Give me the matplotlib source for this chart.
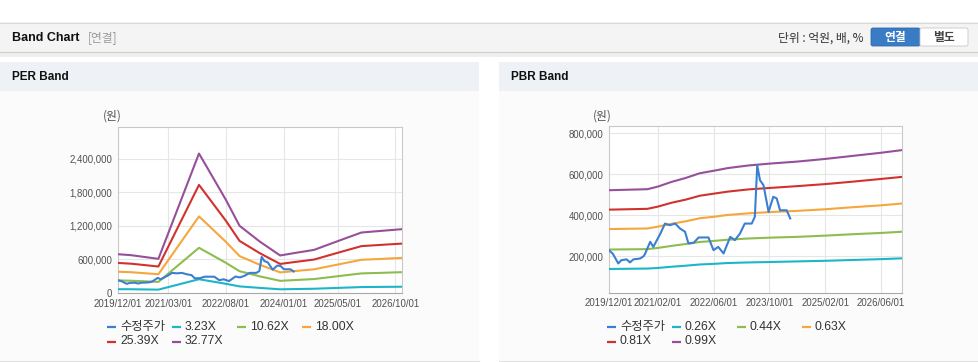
import pandas as pd
import matplotlib
matplotlib.use("Agg")
import matplotlib.pyplot as plt
from matplotlib.patches import Rectangle, FancyBboxPatch
from matplotlib.ticker import FuncFormatter

# 폰트 설정
KR = ['Noto Sans CJK KR', 'DejaVu Sans']
LAT = ['Liberation Sans', 'Noto Sans CJK KR']
W, H = 979, 362

# 수정주가 (PER / PBR 공통)
price_dates = ['2019-12-01', '2020-01-05', '2020-02-20', '2020-03-18', '2020-05-03',
               '2020-06-01', '2020-07-01', '2020-08-28', '2020-09-28', '2020-10-10',
               '2020-11-25', '2020-12-22', '2021-02-22', '2021-04-03', '2021-05-15',
               '2021-07-01', '2021-08-12', '2021-09-25', '2021-10-25', '2021-12-10',
               '2022-01-22', '2022-04-18', '2022-06-01', '2022-07-12', '2022-08-28',
               '2022-10-25', '2022-12-05', '2023-01-18', '2023-03-01', '2023-05-01',
               '2023-05-28', '2023-06-18', '2023-07-12', '2023-08-12', '2023-09-25',
               '2023-11-05', '2023-12-05', '2024-01-03', '2024-03-01', '2024-04-01']
price_values = [229, 210, 164, 180, 184, 169, 184, 188, 199, 210,
                270, 245, 310, 359, 351, 359, 335, 319, 262, 265,
                291, 291, 229, 245, 213, 294, 278, 310, 359, 359,
                392, 644, 571, 546, 416, 490, 482, 424, 424, 384]

# PER 밴드
per_dates = ['2019-12-01', '2020-04-01', '2020-12-01', '2021-12-01', '2022-02-01',
             '2022-08-01', '2022-12-01', '2023-06-01', '2023-12-01', '2024-04-01',
             '2024-10-01', '2025-06-01', '2025-12-01', '2026-06-01', '2026-12-01']
per_3_23 = [68, 67, 60, 246, 225, 164, 118, 91, 66, 70, 76, 93, 106, 109, 112]
per_10_62 = [225, 219, 198, 807, 739, 538, 389, 297, 217, 230, 249, 307, 350, 360, 372]
per_18_00 = [380, 371, 335, 1367, 1252, 911, 659, 504, 368, 390, 423, 520, 593, 609, 628]
per_25_39 = [537, 523, 473, 1930, 1767, 1287, 930, 711, 519, 551, 597, 735, 837, 860, 882]
per_32_77 = [693, 675, 610, 2490, 2280, 1660, 1200, 918, 670, 711, 770, 948, 1080, 1110, 1140]
per_labels = ['3.23X', '10.62X', '18.00X', '25.39X', '32.77X']
per_ticks = ['2019-12-01', '2021-03-01', '2022-08-01', '2024-01-01', '2025-05-01', '2026-10-01']

# PBR 밴드
pbr_dates = ['2019-12-01', '2020-11-01', '2021-02-01', '2021-06-01', '2021-10-01',
             '2022-02-01', '2022-06-01', '2022-10-01', '2023-04-01', '2023-10-01',
             '2024-06-01', '2025-02-01', '2025-10-01', '2026-06-01', '2026-12-01']
pbr_0_26 = [137, 139, 142, 148, 153, 159, 162, 166, 169, 171, 174, 177, 181, 185, 189]
pbr_0_44 = [232, 234, 240, 250, 259, 269, 274, 280, 286, 290, 294, 300, 307, 313, 319]
pbr_0_63 = [332, 335, 344, 358, 370, 385, 392, 401, 409, 415, 421, 429, 439, 448, 457]
pbr_0_81 = [427, 431, 442, 461, 476, 495, 505, 515, 526, 533, 542, 552, 564, 577, 587]
pbr_0_99 = [522, 527, 540, 563, 582, 605, 617, 630, 643, 652, 662, 675, 690, 705, 718]
pbr_labels = ['0.26X', '0.44X', '0.63X', '0.81X', '0.99X']
pbr_ticks = ['2019-12-01', '2021-02-01', '2022-06-01', '2023-10-01', '2025-02-01', '2026-06-01']

PRICE_COLOR = '#3b7fd0'
BAND_COLORS = ['#1db6c9', '#8dbd4f', '#f6a63c', '#d1322e', '#96509b']


def draw_frame(bg):
    """헤더 바, 버튼, 패널 배경을 픽셀 좌표로 그린다."""
    bg.add_patch(Rectangle((0, 22), W, 30, fc='#f4f4f4', ec='none'))
    bg.plot([0, W], [22.5, 22.5], color='#d8d8d8', lw=0.8)
    bg.plot([0, W], [52, 52], color='#cfcfcf', lw=0.8)
    bg.add_patch(Rectangle((0, 52.5), W, 4, fc='#efefef', ec='none'))
    bg.text(12, 38, 'Band Chart', family=LAT, weight='bold', fontsize=9, color='#111', va='center')
    bg.text(88, 38, '[연결]', family=KR, fontsize=8.5, color='#9a9a9a', va='center')
    bg.text(864, 38, '단위 : 억원, 배, %', family=KR, fontsize=8.5, color='#333', va='center', ha='right')
    bg.add_patch(FancyBboxPatch((871, 28), 49, 18, boxstyle='round,pad=0,rounding_size=2',
                                fc='#3a7bc6', ec='#2f6aae', lw=0.6))
    bg.add_patch(FancyBboxPatch((920, 28), 48, 18, boxstyle='round,pad=0,rounding_size=2',
                                fc='white', ec='#c8c8c8', lw=0.6))
    bg.text(895.5, 37.5, '연결', family=KR, fontsize=8.5, weight='bold', color='white', ha='center', va='center')
    bg.text(944, 37.5, '별도', family=KR, fontsize=8.5, weight='bold', color='#444', ha='center', va='center')

    for x0, w, title in [(0, 479, 'PER Band'), (499, 480, 'PBR Band')]:
        bg.add_patch(Rectangle((x0, 62), w, 29, fc='#eef2f7', ec='none'))
        bg.add_patch(Rectangle((x0, 91), w, 270, fc='#fbfbfb', ec='none'))
        bg.plot([x0, x0 + w], [361, 361], color='#e2e2e2', lw=0.8)
        bg.text(x0 + 12, 77, title, family=LAT, weight='bold', fontsize=8.5, color='#111', va='center')


def draw_legend(bg, x0, labels):
    """범례: 한 줄에 4개, 65px 간격."""
    names = ['수정주가'] + labels
    colors = [PRICE_COLOR] + BAND_COLORS
    for i, (name, c) in enumerate(zip(names, colors)):
        x = x0 + (i % 4) * 65
        y = 327 + (i // 4) * 14.5
        bg.plot([x, x + 9.5], [y, y], color=c, lw=1.6, solid_capstyle='butt')
        bg.text(x + 13, y, name, family=LAT, fontsize=8.8, color='#333', va='center')


def draw_band(ax, dates, bands, ticks, ylim, yticks):
    ax.set_facecolor('white')
    d = pd.to_datetime(dates)
    for vals, c in zip(bands, BAND_COLORS):
        ax.plot(d, [v * 1000 for v in vals], color=c, lw=1.5, zorder=3)
    ax.plot(pd.to_datetime(price_dates), [v * 1000 for v in price_values],
            color=PRICE_COLOR, lw=1.5, zorder=4)

    ax.set_xlim(pd.Timestamp('2019-12-01'), pd.Timestamp('2026-12-01'))
    ax.set_ylim(*ylim)
    t = pd.to_datetime(ticks)
    ax.set_xticks(t)
    ax.set_xticklabels([x.strftime('%Y/%m/%d') for x in t])
    ax.set_yticks(yticks)
    ax.yaxis.set_major_formatter(FuncFormatter(lambda v, p: f'{v:,.0f}'))
    ax.grid(True, color='#e6e6e6', lw=0.8)
    ax.set_axisbelow(True)
    ax.tick_params(length=0, pad=4, labelsize=6.9, labelcolor='#505050')
    for lab in ax.get_xticklabels() + ax.get_yticklabels():
        lab.set_family(LAT)
    for s in ax.spines.values():
        s.set_color('#c9c9c9')
        s.set_linewidth(0.8)
    ax.spines['bottom'].set_color('#a8a8a8')


fig = plt.figure(figsize=(W / 100, H / 100), dpi=100)
fig.patch.set_facecolor('white')

bg = fig.add_axes([0, 0, 1, 1], zorder=0)
bg.set_xlim(0, W)
bg.set_ylim(H, 0)
bg.axis('off')
draw_frame(bg)
draw_legend(bg, 107, per_labels)
draw_legend(bg, 607, pbr_labels)
bg.text(112, 116, '(원)', family=KR, fontsize=8.5, color='#555', ha='center', va='center')
bg.text(602, 116, '(원)', family=KR, fontsize=8.5, color='#555', ha='center', va='center')

ax1 = fig.add_axes([117.7 / W, (H - 293) / H, (402 - 117.7) / W, (293 - 127) / H], zorder=2)
draw_band(ax1, per_dates, [per_3_23, per_10_62, per_18_00, per_25_39, per_32_77], per_ticks,
          (0, 2964000), [0, 600000, 1200000, 1800000, 2400000])

ax2 = fig.add_axes([609 / W, (H - 292.7) / H, (901.7 - 609) / W, (292.7 - 126) / H], zorder=2)
draw_band(ax2, pbr_dates, [pbr_0_26, pbr_0_44, pbr_0_63, pbr_0_81, pbr_0_99], pbr_ticks,
          (21000, 836000), [200000, 400000, 600000, 800000])

fig.savefig('out.png', dpi=100)
